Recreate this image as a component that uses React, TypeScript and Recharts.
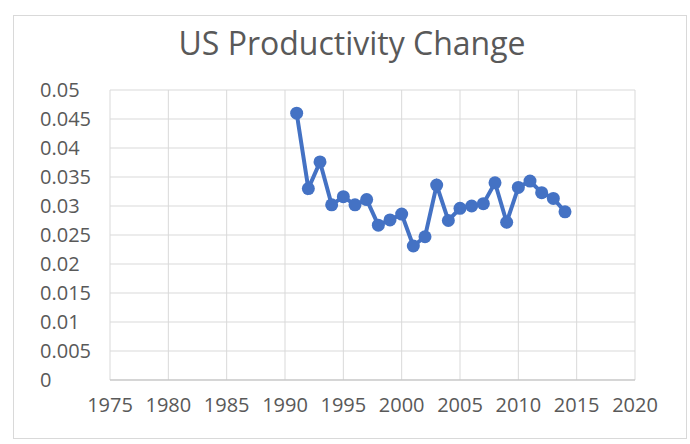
import React from "react";
import { LineChart, Line, XAxis, YAxis, CartesianGrid } from "recharts";

const title = "US Productivity Change";
const years = [1991, 1992, 1993, 1994, 1995, 1996, 1997, 1998, 1999, 2000, 2001, 2002, 2003, 2004, 2005, 2006, 2007, 2008, 2009, 2010, 2011, 2012, 2013, 2014];
const productivity = [0.046, 0.033, 0.0376, 0.0302, 0.0316, 0.0302, 0.0311, 0.0267, 0.0276, 0.0286, 0.0231, 0.0247, 0.0336, 0.0275, 0.0296, 0.03, 0.0304, 0.034, 0.0272, 0.0332, 0.0343, 0.0323, 0.0313, 0.029];
const xTicks = [1975, 1980, 1985, 1990, 1995, 2000, 2005, 2010, 2015, 2020];
const yTicks = [0, 0.005, 0.01, 0.015, 0.02, 0.025, 0.03, 0.035, 0.04, 0.045, 0.05];

const data = years.map((y, i) => ({ year: y, value: productivity[i] }));

const FONT = "'Open Sans', sans-serif";
const TEXT = "#595959";

const YTick = (props: any) => {
  const { y, payload } = props;
  return (
    <text x={40} y={y} dy={7} textAnchor="start" fill={TEXT} fontSize={20} fontFamily={FONT}>
      {String(payload.value)}
    </text>
  );
};

const XTick = (props: any) => {
  const { x, y, payload } = props;
  return (
    <text x={x} y={y} dy={24} textAnchor="middle" fill={TEXT} fontSize={20} fontFamily={FONT}>
      {String(payload.value)}
    </text>
  );
};

export default function App() {
  return (
    <div style={{ position: "absolute", left: 0, top: 0, width: 690, height: 444, background: "#fff" }}>
      <div
        style={{
          position: "absolute",
          left: 13,
          top: 15,
          width: 674,
          height: 424,
          border: "1px solid #d9d9d9",
          boxSizing: "border-box",
        }}
      />
      <div
        style={{
          position: "absolute",
          left: 0,
          top: 21,
          width: 704,
          textAlign: "center",
          fontFamily: FONT,
          fontSize: 32,
          color: TEXT,
          lineHeight: "44px",
        }}
      >
        {title}
      </div>
      <div style={{ position: "absolute", left: 0, top: 0 }}>
        <LineChart width={690} height={444} data={data} margin={{ top: 90, right: 55, bottom: 0, left: 30 }}>
          <CartesianGrid stroke="#d9d9d9" strokeWidth={1} />
          <XAxis
            dataKey="year"
            type="number"
            domain={[1975, 2020]}
            ticks={xTicks}
            tick={<XTick />}
            tickLine={false}
            axisLine={{ stroke: "#bfbfbf" }}
            height={64}
            interval={0}
          />
          <YAxis
            type="number"
            domain={[0, 0.05]}
            ticks={yTicks}
            tick={<YTick />}
            tickLine={false}
            axisLine={false}
            width={80}
            interval={0}
          />
          <Line
            dataKey="value"
            stroke="#4472C4"
            strokeWidth={4}
            dot={{ r: 6.5, fill: "#4472C4", stroke: "#4472C4", strokeWidth: 0 }}
            isAnimationActive={false}
          />
        </LineChart>
      </div>
    </div>
  );
}
